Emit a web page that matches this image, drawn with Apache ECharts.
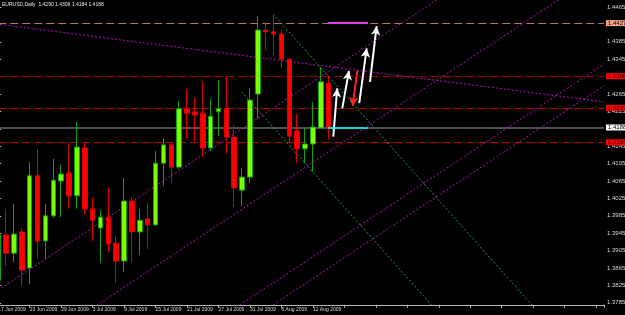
<!DOCTYPE html>
<html><head><meta charset="utf-8">
<script src="https://cdn.jsdelivr.net/npm/echarts@6/dist/echarts.min.js"></script>
<style>html,body{margin:0;padding:0;background:#000;}#c{width:625px;height:315px;}</style>
</head><body><div id="c"></div>
<script>
const dates = ['17 Jun 2009','18 Jun 2009','19 Jun 2009','22 Jun 2009','23 Jun 2009','24 Jun 2009','25 Jun 2009','26 Jun 2009','29 Jun 2009','30 Jun 2009',
 '1 Jul 2009','2 Jul 2009','3 Jul 2009','6 Jul 2009','7 Jul 2009','8 Jul 2009','9 Jul 2009','10 Jul 2009','13 Jul 2009','14 Jul 2009',
 '15 Jul 2009','16 Jul 2009','17 Jul 2009','20 Jul 2009','21 Jul 2009','22 Jul 2009','23 Jul 2009','24 Jul 2009','27 Jul 2009','28 Jul 2009',
 '29 Jul 2009','30 Jul 2009','31 Jul 2009','3 Aug 2009','4 Aug 2009','5 Aug 2009','6 Aug 2009','7 Aug 2009','10 Aug 2009','11 Aug 2009',
 '12 Aug 2009','13 Aug 2009','14 Aug 2009'];
const opens  = [1.3837,1.3941,1.3899,1.3948,1.3865,1.4077,1.3927,1.3985,1.4065,1.4083,1.4031,1.4141,1.4001,1.3957,1.3982,1.3922,1.3881,1.4019,1.3948,1.3978,1.3964,1.4106,1.4148,1.4097,1.4231,1.4224,1.4221,1.4141,1.4224,1.4231,1.4166,1.4044,1.4074,1.4265,1.4412,1.4408,1.4403,1.4345,1.4180,1.4139,1.4150,1.4187,1.4290];
const highs  = [1.3952,1.4001,1.4012,1.3957,1.4109,1.4139,1.4012,1.4116,1.4102,1.4152,1.4201,1.4152,1.4028,1.3998,1.4049,1.3939,1.4072,1.4028,1.4001,1.4014,1.4134,1.4164,1.4152,1.4249,1.4277,1.4256,1.4293,1.4254,1.4297,1.4304,1.4194,1.4095,1.4279,1.4444,1.4431,1.4449,1.4412,1.4346,1.4219,1.4187,1.4247,1.4327,1.4306];
const lows   = [1.3821,1.3870,1.3879,1.3824,1.3828,1.3886,1.3886,1.3980,1.3982,1.4001,1.4001,1.3987,1.3927,1.3877,1.3902,1.3831,1.3856,1.3877,1.3895,1.3909,1.3962,1.4054,1.4060,1.4093,1.4162,1.4155,1.4120,1.4134,1.4168,1.4129,1.4005,1.4008,1.4060,1.4208,1.4366,1.4355,1.4325,1.4155,1.4106,1.4106,1.4086,1.4185,1.4161];
const closes = [1.3941,1.3899,1.3943,1.3860,1.4077,1.3927,1.3985,1.4067,1.4081,1.4031,1.4143,1.4001,1.3975,1.3982,1.3920,1.3881,1.4019,1.3948,1.3975,1.3964,1.4106,1.4148,1.4097,1.4231,1.4221,1.4217,1.4141,1.4214,1.4231,1.4166,1.4049,1.4074,1.4251,1.4412,1.4408,1.4403,1.4345,1.4168,1.4139,1.4150,1.4189,1.4293,1.4188];
const headerText = 'EURUSD,Daily  1.4290 1.4306 1.4184 1.4188';

const levelValues = [1.4428, 1.4306, 1.4233, 1.4188, 1.4154];
const levelLabels = ['1.4427', '1.4306', '1.4233', '1.4188', '1.4154'];
const levelSpan = [0, 77];
const trendDesc = [[0.2,1.4425],[77,1.4247]];
const channelA = [[0,1.3814],[55.7,1.4481]];
const channelB = [[12.5,1.3779],[72,1.4491]];
const channelC = [[30.73,1.3780],[77,1.4334]];
const channelD = [[34.92,1.3780],[77,1.4284]];
const fanG1 = [[34.92,1.4449],[67.84,1.3780]];
const fanG2 = [[30.94,1.4270],[55.07,1.3780]];
const magentaSeg = [[41.9,1.4428],[47.0,1.4428]];
const cyanSeg = [[41.9,1.4187],[47.0,1.4187]];
const arrowsUp = [[[42.59,1.4167],[43.09,1.4278]],[[43.73,1.4232],[44.58,1.4318]],[[45.89,1.4244],[46.83,1.4370]],[[47.25,1.4293],[48.10,1.4421]]];
const arrowDown = [[45.64,1.4318],[45.05,1.4237]];

const candleData = dates.map((d,i)=>[i, opens[i], closes[i], lows[i], highs[i]]);
const chart = echarts.init(document.getElementById('c'), null, {renderer:'canvas'});

function seg(pts, color, type, width, z){
  return {type:'line', data:pts, showSymbol:false, symbol:'none', clip:false, silent:true, z:z||5,
    lineStyle:{color:color, type:type, width:width||1}};
}
const hidden = [1.4425,1.4305,1.4185];
const levelStyles = [
  {c:'#b87a6a', bg:'#f6a486', fg:'#000', t:[8,4], w:1},
  {c:'#a00000', bg:'#ff0000', fg:'#200', t:[8,4], w:1},
  {c:'#c00000', bg:'#ff0000', fg:'#200', t:[8,4], w:1},
  {c:'#4c5056', bg:'#ffffff', fg:'#000', t:'solid', w:2},
  {c:'#c00000', bg:'#ff0000', fg:'#200', t:[8,4], w:1}
];

chart.setOption({
  backgroundColor:'#000',
  animation:false,
  grid:{left:-1.77, right:21, top:-10.4, bottom:12.2, containLabel:false, outerBoundsMode:'none'},
  xAxis:{type:'value', min:0, max:77, interval:4, offset:2,
    axisLine:{show:true, lineStyle:{color:'#b8b8b8', width:1}},
    axisTick:{show:true, length:3, lineStyle:{color:'#b8b8b8'}},
    splitLine:{show:false},
    axisLabel:{show:true, color:'#d8d8d8', fontSize:5, fontFamily:'Liberation Sans', align:'left', margin:2,
      formatter:(v)=> (Number.isInteger(v) && v < dates.length) ? dates[v] : ''}},
  yAxis:{type:'value', position:'right', min:1.3785, max:1.4505, interval:0.004,
    axisLine:{show:true, lineStyle:{color:'#b8b8b8', width:1}},
    axisTick:{show:true, length:3, lineStyle:{color:'#b8b8b8'}},
    splitLine:{show:false},
    axisLabel:{show:true, color:'#d8d8d8', fontSize:6, fontFamily:'Liberation Sans', margin:3,
      formatter:(v)=> hidden.some(h=>Math.abs(h-v)<0.0002) ? '' : v.toFixed(4)}},
  graphic:[{type:'text', left:2, top:2, style:{text:headerText, fill:'#e8e8e8', font:'5px "Liberation Sans"'}}],
  series:[
    {type:'candlestick', data:candleData, encode:{x:0, y:[1,2,3,4]}, barWidth:5, z:8,
      itemStyle:{color:'#7cfc00', color0:'#ff0000', borderColor:'#10a010', borderColor0:'#e00000', borderWidth:1}},
    Object.assign(seg(trendDesc, '#c010c0', [2,2], 1), {
      markLine:{silent:true, symbol:['none','none'], animation:false, z:4,
        data: levelValues.map((v,i)=>[
          {coord:[levelSpan[0], v],
           lineStyle:{color:levelStyles[i].c, type:levelStyles[i].t, width:levelStyles[i].w},
           label:{show:true, position:'end', distance:2, formatter:levelLabels[i], fontSize:6, fontFamily:'Liberation Sans',
             color:levelStyles[i].fg, backgroundColor:levelStyles[i].bg, padding:[0,2,0,2]}},
          {coord:[levelSpan[1], v]}])}}),
    seg(channelA, '#c010c0', [2,2], 1),
    seg(channelB, '#c010c0', [2,2], 1),
    seg(channelC, '#c010c0', [2,2], 1),
    seg(channelD, '#c010c0', [2,2], 1),
    seg(fanG1, '#20a060', [2,2], 1),
    seg(fanG2, '#20a060', [2,2], 1),
    seg(magentaSeg, '#e040e0', 'solid', 2, 9),
    Object.assign(seg(cyanSeg, '#00ffff', 'solid', 1.5, 9), {
      markLine:{silent:true, symbol:['none','arrow'], symbolSize:[7,9], animation:false, label:{show:false},
        data: arrowsUp.map(a=>[{coord:a[0], lineStyle:{color:'#ffffff', width:2, type:'solid'}},{coord:a[1]}])
          .concat([[{coord:arrowDown[0], lineStyle:{color:'#ff2020', width:2, type:'solid'}},{coord:arrowDown[1]}]])}})
  ]
});
</script></body></html>
